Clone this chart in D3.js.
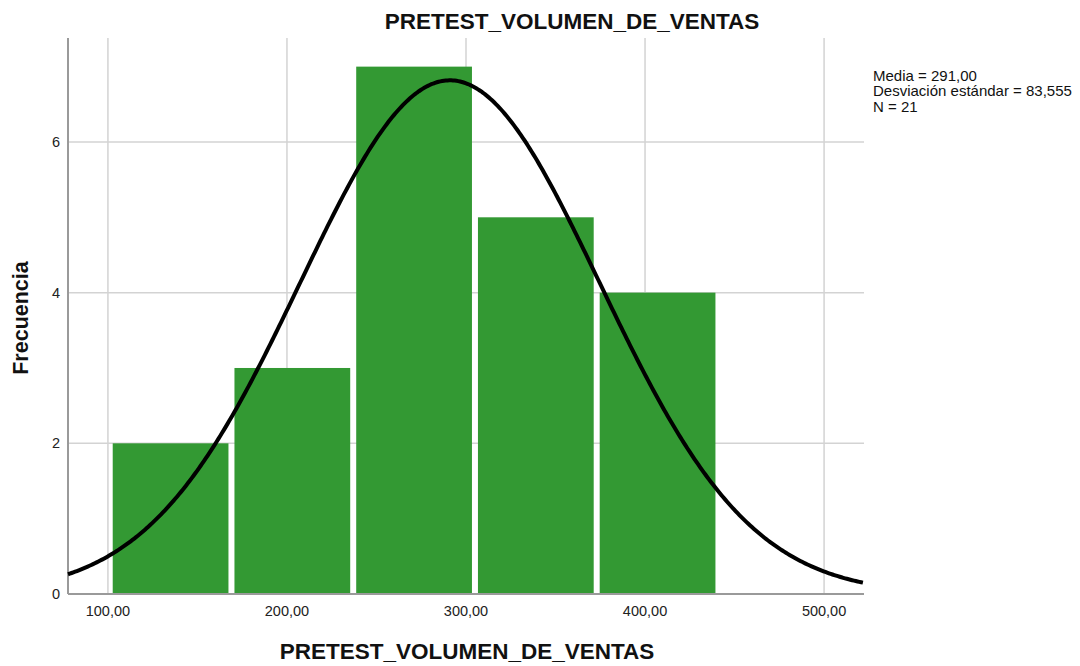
<!DOCTYPE html>
<html>
<head>
<meta charset="utf-8">
<script src="https://cdn.jsdelivr.net/npm/d3@7.9.0/dist/d3.min.js"></script>
<style>
  body { margin: 0; background: #fff; }
  text { font-family: Arial, "Liberation Sans", sans-serif; }
</style>
</head>
<body>
<svg id="chart" width="1080" height="666"></svg>
<script>
// bins
const binEdges = [101, 169, 237, 305, 373, 441];
const counts = [2, 3, 7, 5, 4];
const xTicks = [100, 200, 300, 400, 500];
const yTicks = [0, 2, 4, 6];
const media = 291.0;
const desv = 83.555;
const n = 21;

const svg = d3.select('#chart');
const plotL = 68, plotR = 864, plotT = 38, plotB = 594;

const x = d3.scaleLinear().domain([77.7, 522.3]).range([plotL, plotR]);
const y = d3.scaleLinear().domain([0, 7.38]).range([plotB, plotT]);

// grid
svg.append('g')
  .selectAll('line')
  .data(xTicks)
  .join('line')
  .attr('x1', (d) => x(d)).attr('x2', (d) => x(d))
  .attr('y1', plotT).attr('y2', plotB)
  .attr('stroke', '#d3d3d3').attr('stroke-width', 1.5);

svg.append('g')
  .selectAll('line')
  .data(yTicks.filter((d) => d > 0))
  .join('line')
  .attr('x1', plotL).attr('x2', plotR)
  .attr('y1', (d) => y(d)).attr('y2', (d) => y(d))
  .attr('stroke', '#d3d3d3').attr('stroke-width', 1.5);

// bars (inset a little so a white gap shows between them)
let bins = counts.map((c, i) => ({ x0: binEdges[i], x1: binEdges[i + 1], count: c }));
const gap = 3;
svg.append('g')
  .selectAll('rect')
  .data(bins)
  .join('rect')
  .attr('x', (d) => x(d.x0) + gap)
  .attr('y', (d) => y(d.count))
  .attr('width', (d) => x(d.x1) - x(d.x0) - 2 * gap)
  .attr('height', (d) => y(0) - y(d.count))
  .attr('fill', '#339933');

// axes lines
svg.append('line')
  .attr('x1', plotL).attr('x2', plotL).attr('y1', plotT).attr('y2', plotB)
  .attr('stroke', '#9a9a9a').attr('stroke-width', 2);
svg.append('line')
  .attr('x1', plotL).attr('x2', plotR).attr('y1', plotB).attr('y2', plotB)
  .attr('stroke', '#9a9a9a').attr('stroke-width', 2);

// normal curve
const binW = binEdges[1] - binEdges[0];
let curvePts = d3.range(77.7, 522.31, 1).map((v) => {
  let z = (v - media) / desv;
  return [v, n * binW * Math.exp(-0.5 * z * z) / (desv * Math.sqrt(2 * Math.PI))];
});
svg.append('path')
  .datum(curvePts)
  .attr('d', d3.line().x((d) => x(d[0])).y((d) => y(d[1])))
  .attr('fill', 'none')
  .attr('stroke', '#000')
  .attr('stroke-width', 4);

// tick labels
const fmt = (v) => d3.format('.2f')(v).replace('.', ',');
svg.append('g')
  .selectAll('text')
  .data(xTicks)
  .join('text')
  .attr('x', (d) => x(d)).attr('y', 616)
  .attr('text-anchor', 'middle')
  .attr('font-size', 14.5).attr('fill', '#222')
  .text(fmt);

svg.append('g')
  .selectAll('text')
  .data(yTicks)
  .join('text')
  .attr('x', 60).attr('y', (d) => y(d) + 5)
  .attr('text-anchor', 'end')
  .attr('font-size', 14.5).attr('fill', '#222')
  .text((d) => d);

// titles
svg.append('text')
  .attr('x', 572).attr('y', 29)
  .attr('text-anchor', 'middle')
  .attr('font-size', 22.5).attr('font-weight', 'bold').attr('fill', '#111')
  .text('PRETEST_VOLUMEN_DE_VENTAS');

svg.append('text')
  .attr('x', 467).attr('y', 659)
  .attr('text-anchor', 'middle')
  .attr('font-size', 22.5).attr('font-weight', 'bold').attr('fill', '#111')
  .text('PRETEST_VOLUMEN_DE_VENTAS');

svg.append('text')
  .attr('transform', 'translate(28,318) rotate(-90)')
  .attr('text-anchor', 'middle')
  .attr('font-size', 21.5).attr('font-weight', 'bold').attr('fill', '#111')
  .text('Frecuencia');

// stats legend
const stats = [
  'Media = ' + fmt(media),
  'Desviación estándar = ' + d3.format('.3f')(desv).replace('.', ','),
  'N = ' + n
];
svg.append('g')
  .selectAll('text')
  .data(stats)
  .join('text')
  .attr('x', 873).attr('y', (d, i) => 81 + i * 15.3)
  .attr('font-size', 15).attr('fill', '#111')
  .text((d) => d);
</script>
</body>
</html>
